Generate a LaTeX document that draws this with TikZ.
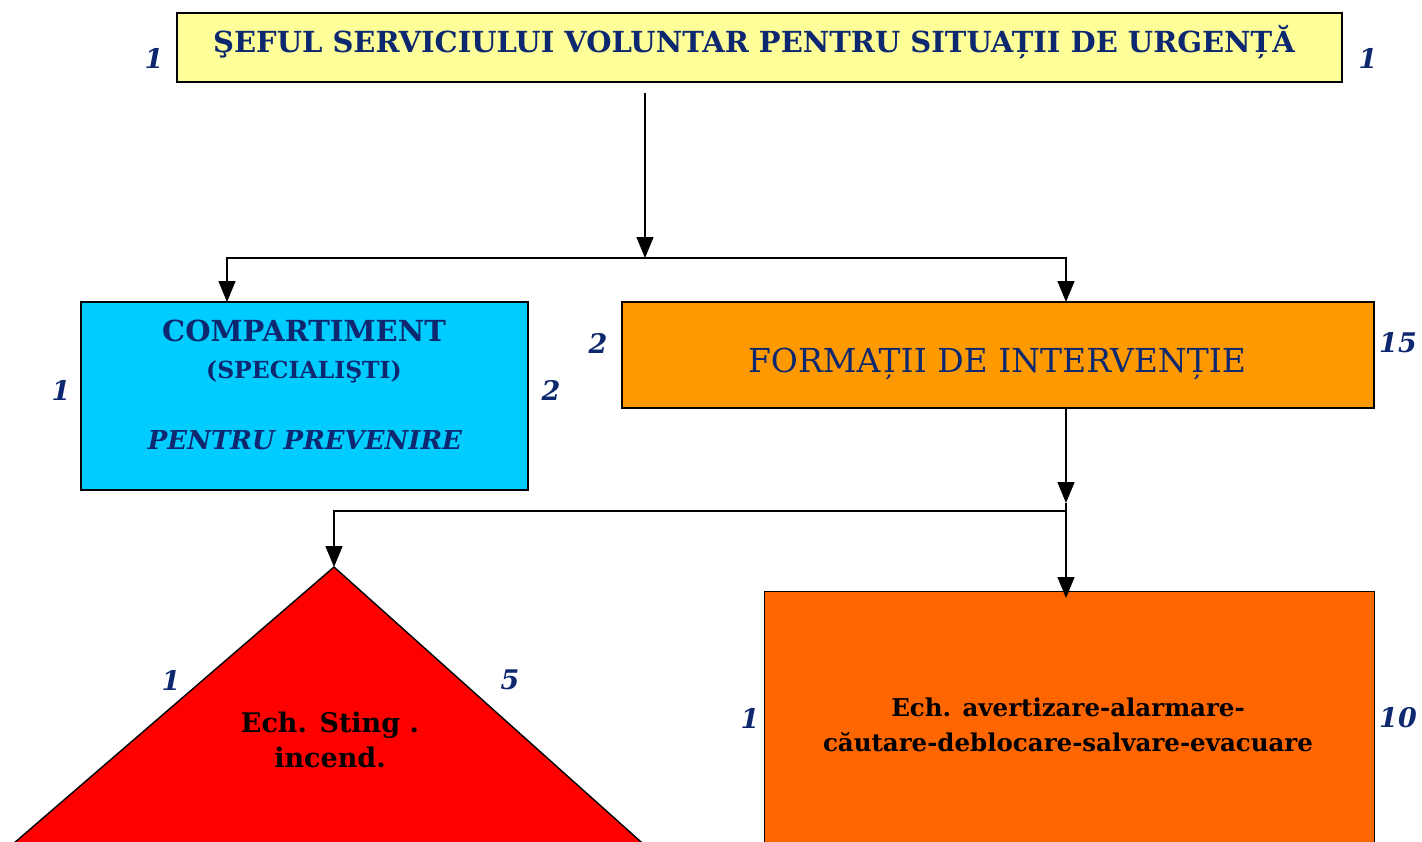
\documentclass[tikz,border=0pt]{standalone}
\usepackage{fontspec}
\setmainfont{DejaVu Serif}
\usetikzlibrary{positioning}
\usetikzlibrary{arrows.meta}
\definecolor{navy}{RGB}{14,40,112}
\definecolor{paleyellow}{RGB}{255,255,153}
\definecolor{skyblue}{RGB}{0,204,255}
\definecolor{amber}{RGB}{255,153,0}
\definecolor{darkorange}{RGB}{255,102,0}
\tikzset{
  box/.style={draw=black, line width=1.4pt, inner sep=0pt},
  num/.style={text=navy, font=\fontsize{27}{29}\selectfont\bfseries\itshape},
  line/.style={line width=1.4pt},
  conn/.style={line width=1.4pt, -{Triangle[length=21pt,width=17pt]}},
}

\begin{document}
\begin{tikzpicture}[x=1pt,y=-1pt]
\clip (0,0) rectangle (1422,841);
% boxes
\node[box, fill=paleyellow, minimum width=1165pt, minimum height=69pt] (sef) at (759.5,47.5) {};
\node[text=navy, font=\fontsize{29}{32}\selectfont\bfseries] (sefT) at (754,42) {ŞEFUL SERVICIULUI VOLUNTAR PENTRU SITUAȚII DE URGENȚĂ};
\node[box, fill=skyblue, minimum width=447pt, minimum height=188pt] (comp) at (304.5,396) {};
\node[text=navy, font=\fontsize{29}{32}\selectfont\bfseries] (compA) at (304,331) {COMPARTIMENT};
\node[text=navy, font=\fontsize{23.5}{26}\selectfont\bfseries] (compB) at (304,372) {(SPECIALIŞTI)};
\node[text=navy, font=\fontsize{26}{29}\selectfont\bfseries\itshape] (compC) at (305,440) {PENTRU PREVENIRE};
\node[box, fill=amber, minimum width=752pt, minimum height=106pt] (form) at (998,355) {};
\node[text=navy, font=\fontsize{33}{36}\selectfont] (formT) at (997,364) {FORMAȚII DE INTERVENȚIE};
% triangle
\coordinate (apex) at (334,567);
\fill[red] (apex) -- (650,850) -- (6,850) -- cycle;
\draw[line] (6,850) -- (apex) -- (650,850);
\node[align=center, font=\fontsize{27}{35}\selectfont\bfseries] (sting) at (330,740) {Ech. Sting .\\incend.};
\node[box, fill=darkorange, minimum width=610pt, minimum height=269pt, anchor=north west] (ech) at (764,591) {};
\node[align=center, font=\fontsize{24.5}{35}\selectfont\bfseries] (echT) at (1068,725) {Ech. avertizare-alarmare-\\căutare-deblocare-salvare-evacuare};
% numbers
\foreach \x/\y/\t [count=\i] in {154/58/1, 1368/58/1, 61/390/1, 551/390/2, 598/343/2, 1398/343/15, 171/680/1, 510/680/5, 750/718/1, 1398/718/10}
  \node[num] (num\i) at (\x,\y) {\t};
% connectors
\coordinate (top) at (645,93);
\coordinate (j1) at (645,258);
\coordinate (cIn) at (227,302);
\coordinate (fIn) at (1066,302);
\draw[conn] (top) -- (j1);
\draw[conn] (j1) -| (cIn);
\draw[conn] (j1) -| (fIn);
\coordinate (fOut) at (form.south -| fIn);
\coordinate (j2) at (1066,503);
\coordinate (j3) at (1066,511);
\coordinate (eIn) at (1066,598);
\draw[conn] (fOut) -- (j2);
\draw[line] (j2) -- (j3);
\draw[conn] (j3) -- (eIn);
\draw[conn] (j3) -| (apex);
\end{tikzpicture}
\end{document}
